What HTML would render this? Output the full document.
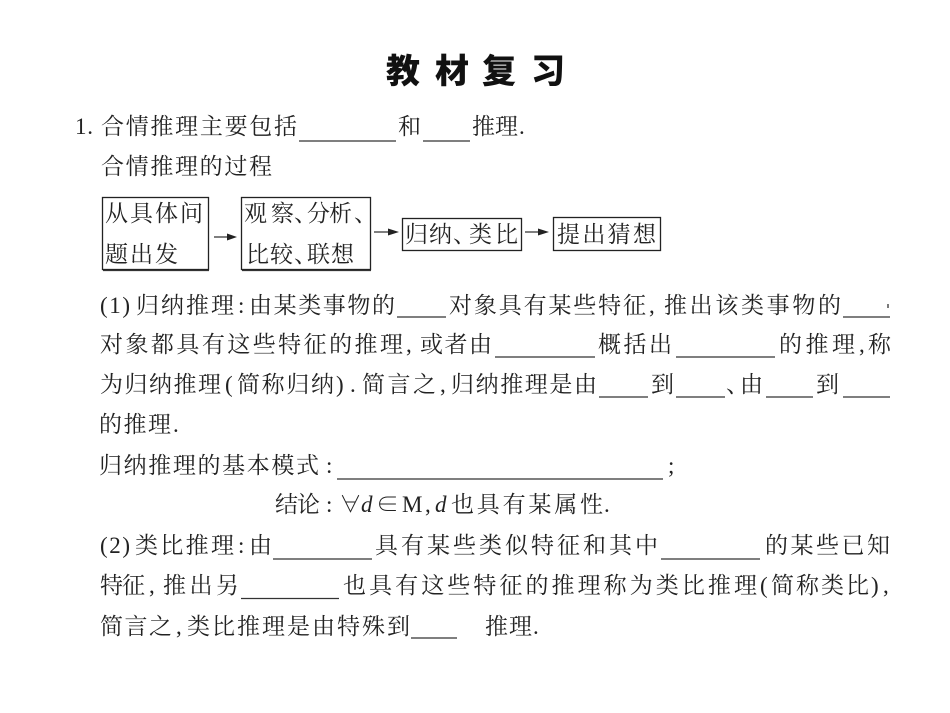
<!DOCTYPE html>
<html><head><meta charset="utf-8">
<style>
html,body{margin:0;padding:0;background:#fff;width:950px;height:713px;overflow:hidden}
svg{display:block}
text{font-family:"Liberation Serif","Noto Serif CJK SC",serif;font-size:23px;fill:#222}
.t{font-family:"Liberation Sans","Noto Sans CJK SC",sans-serif;font-size:34px;font-weight:900;fill:#111}
line{stroke:#333;stroke-width:1.3}
rect{fill:none;stroke:#222;stroke-width:1.3}
.i{font-style:italic}
</style></head><body>
<svg width="950" height="713" viewBox="0 0 950 713">
<text class="t" x="386" y="83">教</text><text class="t" x="435" y="83">材</text><text class="t" x="482" y="83">复</text><text class="t" x="531" y="83">习</text>

<text x="75" y="134" textLength="18">1.</text>
<text x="101" y="134" textLength="196">合情推理主要包括</text>
<line x1="299" y1="141" x2="396" y2="141"/>
<text x="398" y="134" textLength="23">和</text>
<line x1="423" y1="141" x2="470" y2="141"/>
<text x="472" y="134" textLength="46">推理</text><text x="519" y="134">.</text>
<text x="101" y="174" textLength="171">合情推理的过程</text>

<rect x="102.5" y="197.5" width="106" height="72"/>
<line x1="103" y1="270.5" x2="209" y2="270.5"/>
<text x="105" y="221" textLength="98">从具体问</text>
<text x="105" y="262" textLength="73">题出发</text>
<rect x="241.5" y="197.5" width="129" height="72"/>
<line x1="242" y1="270.5" x2="371" y2="270.5"/>
<text x="244" y="221" textLength="50">观察</text><text x="294" y="221">、</text><text x="307" y="221" textLength="45">分析</text><text x="354" y="221">、</text>
<text x="246" y="262" textLength="47">比较</text><text x="294" y="262">、</text><text x="307" y="262" textLength="47">联想</text>
<rect x="402.5" y="218.5" width="119" height="32"/>
<text x="405" y="242" textLength="47">归纳</text><text x="453" y="242">、</text><text x="469" y="242" textLength="49">类比</text>
<rect x="553.5" y="217.5" width="107" height="33"/>
<text x="557" y="242" textLength="99">提出猜想</text>

<line x1="214" y1="237" x2="232" y2="237"/><path d="M227 233.5L237 237L227 240.5Z" fill="#222"/>
<line x1="374" y1="232" x2="392" y2="232"/><path d="M388 228.5L399 232L388 235.5Z" fill="#222"/>
<line x1="525" y1="232" x2="542" y2="232"/><path d="M538 228.5L549 232L538 235.5Z" fill="#222"/>

<text x="100" y="313" textLength="30">(1)</text>
<text x="136" y="313" textLength="98">归纳推理</text><text x="238" y="313">:</text>
<text x="249" y="313" textLength="146">由某类事物的</text>
<line x1="397" y1="317" x2="446" y2="317"/>
<text x="449" y="313" textLength="197">对象具有某些特征</text><text x="649" y="313">,</text>
<text x="664" y="313" textLength="177">推出该类事物的</text>
<line x1="843" y1="317" x2="890" y2="317"/>
<line x1="888" y1="304" x2="888" y2="308"/>

<text x="100" y="352" textLength="303">对象都具有这些特征的推理</text><text x="406" y="352">,</text>
<text x="420" y="352" textLength="72">或者由</text>
<line x1="495" y1="357" x2="595" y2="357"/>
<text x="598" y="352" textLength="74">概括出</text>
<line x1="676" y1="357" x2="775" y2="357"/>
<text x="779" y="352" textLength="76">的推理</text><text x="859" y="352">,</text>
<text x="868" y="352">称</text>

<text x="100" y="392" textLength="121">为归纳推理</text><text x="225" y="392">(</text>
<text x="237" y="392" textLength="97">简称归纳</text><text x="336" y="392">)</text><text x="350" y="392">.</text>
<text x="362" y="392" textLength="74">简言之</text><text x="440" y="392">,</text>
<text x="451" y="392" textLength="146">归纳推理是由</text>
<line x1="599" y1="397" x2="648" y2="397"/>
<text x="651" y="392">到</text>
<line x1="676" y1="397" x2="725" y2="397"/>
<text x="726" y="392">、</text><text x="740" y="392">由</text>
<line x1="766" y1="397" x2="813" y2="397"/>
<text x="816" y="392">到</text>
<line x1="843" y1="397" x2="890" y2="397"/>

<text x="99" y="432" textLength="72">的推理</text><text x="173" y="432">.</text>

<text x="99" y="473" textLength="220">归纳推理的基本模式</text><text x="326" y="473">:</text>
<line x1="337" y1="479" x2="663" y2="479"/>
<text x="668" y="473">;</text>

<text x="275" y="512" textLength="45">结论</text><text x="326" y="512">:</text>
<text x="339" y="512">∀</text>
<text x="361" y="512" class="i">d</text>
<text x="376" y="512">∈</text>
<text x="402" y="512" font-size="20">M</text><text x="425" y="512">,</text>
<text x="435" y="512" class="i">d</text>
<text x="451" y="512" textLength="152">也具有某属性</text><text x="604" y="512">.</text>

<text x="100" y="553" textLength="30">(2)</text>
<text x="135" y="553" textLength="99">类比推理</text><text x="238" y="553">:</text>
<text x="249" y="553">由</text>
<line x1="273" y1="559" x2="372" y2="559"/>
<text x="375" y="553" textLength="283">具有某些类似特征和其中</text>
<line x1="661" y1="559" x2="760" y2="559"/>
<text x="765" y="553" textLength="125">的某些已知</text>

<text x="100" y="593" textLength="45">特征</text><text x="149" y="593">,</text>
<text x="163" y="593" textLength="76">推出另</text>
<line x1="241" y1="598.5" x2="339" y2="598.5"/>
<text x="343" y="593" textLength="414">也具有这些特征的推理称为类比推理</text><text x="760" y="593">(</text>
<text x="771" y="593" textLength="98">简称类比</text><text x="871" y="593">)</text><text x="883" y="593">,</text>

<text x="100" y="634" textLength="72">简言之</text><text x="176" y="634">,</text>
<text x="187" y="634" textLength="223">类比推理是由特殊到</text>
<line x1="411" y1="638" x2="457" y2="638"/>
<text x="485" y="634" textLength="47">推理</text><text x="533" y="634">.</text>
</svg>
</body></html>
